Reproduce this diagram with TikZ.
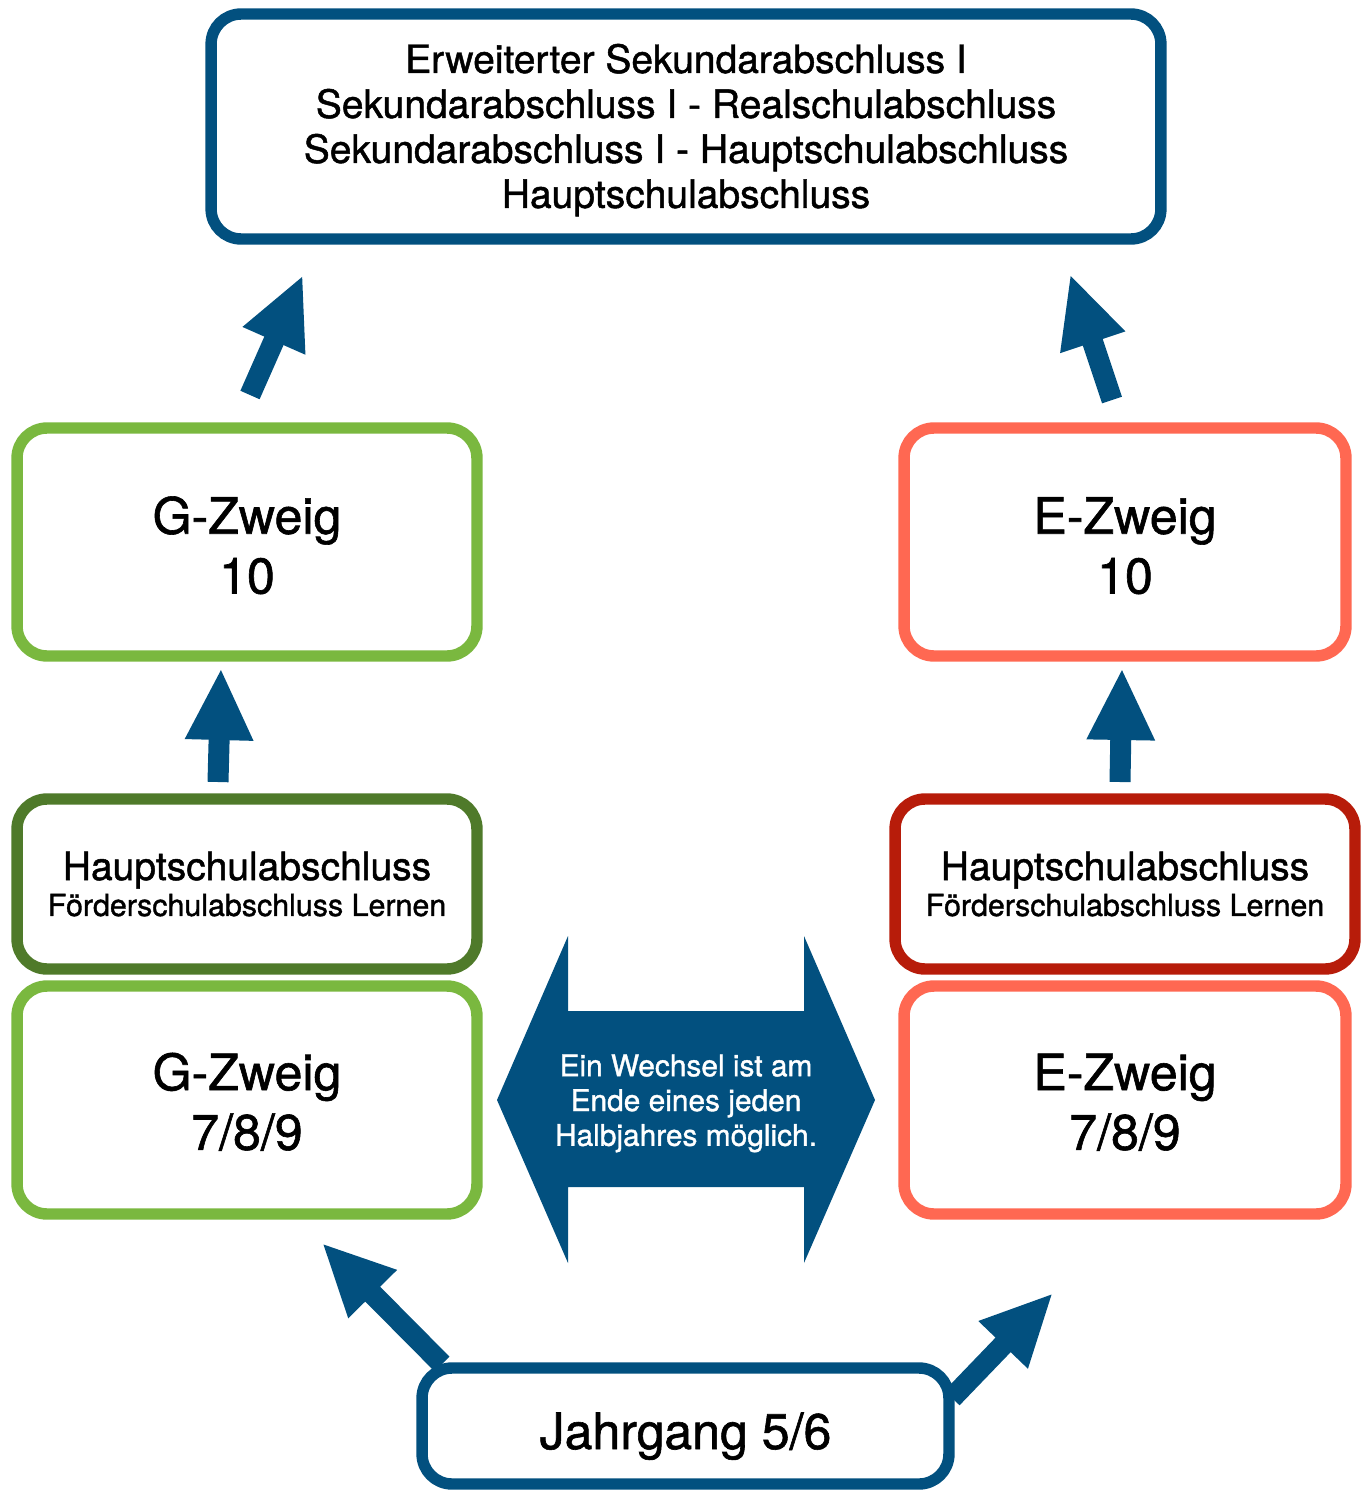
\documentclass[tikz,border=0pt]{standalone}
\usepackage{fontspec}
\setmainfont{TeX Gyre Heros}[BoldFont={TeX Gyre Heros}, BoldFeatures={FakeBold=1.2}]
\usetikzlibrary{arrows.meta}
\definecolor{SchoolBlue}{HTML}{02507F}
\definecolor{LightGreen}{HTML}{7AB83F}
\definecolor{DarkGreen}{HTML}{4F7A2A}
\definecolor{Salmon}{HTML}{FF6852}
\definecolor{DarkRed}{HTML}{B71C0A}
\newcommand{\lowered}[2]{\raisebox{-#1}[\height][\depth]{\begin{tabular}{@{}c@{}}#2\end{tabular}}}
\tikzset{
    box/.style={draw=#1, line width=6.5pt, rounded corners=0.6cm, fill=white, align=center, inner sep=0pt},
    bigarrow/.style={SchoolBlue, line width=0.42cm, arrows={-Triangle[length=1.44cm, width=1.26cm]}},
    bigfont/.style={font=\bfseries\fontsize{28.5pt}{34pt}\selectfont},
    midfont/.style={font=\bfseries\fontsize{22.2pt}{25.6pt}\selectfont},
}

\begin{document}
\begin{tikzpicture}[x=0.02cm, y=-0.02cm]
                    \useasboundingbox (0,0) rectangle (1366,1490);
%                    Abschluesse oben
                    \node[box=SchoolBlue, midfont, minimum width=19cm, minimum height=4.5cm] (top) at (686,126.5)
                        {\lowered{2.8pt}{Erweiterter Sekundarabschluss I\\Sekundarabschluss I - Realschulabschluss\\Sekundarabschluss I - Hauptschulabschluss\\Hauptschulabschluss}};

%                    Klasse 10
                    \node[box=LightGreen, bigfont, minimum width=9.2cm, minimum height=4.56cm] (g10) at (247,542) {\lowered{5.5pt}{G-Zweig\\10}};
                    \node[box=Salmon, bigfont, minimum width=8.84cm, minimum height=4.56cm] (e10) at (1125,542) {\lowered{5.5pt}{E-Zweig\\10}};

%                    Abschluesse nach 9
                    \node[box=DarkGreen, font=\bfseries, minimum width=9.2cm, minimum height=3.4cm] (hsg) at (247,884)
                        {{\fontsize{22.2pt}{22.2pt}\selectfont Hauptschulabschluss}\\[2pt]{\fontsize{17.3pt}{20pt}\selectfont Förderschulabschluss Lernen}};
                    \node[box=DarkRed, font=\bfseries, minimum width=9.2cm, minimum height=3.4cm] (hse) at (1125,884)
                        {{\fontsize{22.2pt}{22.2pt}\selectfont Hauptschulabschluss}\\[2pt]{\fontsize{17.3pt}{20pt}\selectfont Förderschulabschluss Lernen}};

%                    Klasse 7/8/9
                    \node[box=LightGreen, bigfont, minimum width=9.2cm, minimum height=4.56cm] (g789) at (247,1100) {\lowered{4.6pt}{G-Zweig\\7/8/9}};
                    \node[box=Salmon, bigfont, minimum width=8.84cm, minimum height=4.56cm] (e789) at (1125,1100) {\lowered{4.6pt}{E-Zweig\\7/8/9}};

%                    Wechsel
                    \fill[SchoolBlue] (497,1100) -- (568,936) -- (568,1011) -- (804,1011) -- (804,936) -- (875,1100)
                        -- (804,1263) -- (804,1187) -- (568,1187) -- (568,1263) -- cycle;
                    \node[text=white, font=\bfseries\fontsize{17pt}{19.8pt}\selectfont] (wechsel) at (686,1100)
                        {\lowered{2.3pt}{Ein Wechsel ist am\\Ende eines jeden\\Halbjahres möglich.}};

%                    Jahrgang 5/6
                    \node[box=SchoolBlue, bigfont, minimum width=10.54cm, minimum height=2.32cm] (jahr) at (685.5,1426) {\lowered{6.3pt}{Jahrgang 5/6}};

%                    Pfeile
                    \coordinate (gup1) at (250,395);   \coordinate (gup2) at (303,275);
                    \coordinate (eup1) at (1112,400);  \coordinate (eup2) at (1070,274);
                    \coordinate (gmid1) at (218,782);  \coordinate (gmid2) at (221,668);
                    \coordinate (emid1) at (1120,782); \coordinate (emid2) at (1122,668);
                    \coordinate (jl1) at (442,1364);   \coordinate (jl2) at (322,1243);
                    \coordinate (jr1) at (952,1398);   \coordinate (jr2) at (1053,1293);
                    \draw[bigarrow] (gup1) -- (gup2);
                    \draw[bigarrow] (eup1) -- (eup2);
                    \draw[bigarrow] (gmid1) -- (gmid2);
                    \draw[bigarrow] (emid1) -- (emid2);
                    \draw[bigarrow] (jl1) -- (jl2);
                    \draw[bigarrow] (jr1) -- (jr2);
\end{tikzpicture}
\end{document}
